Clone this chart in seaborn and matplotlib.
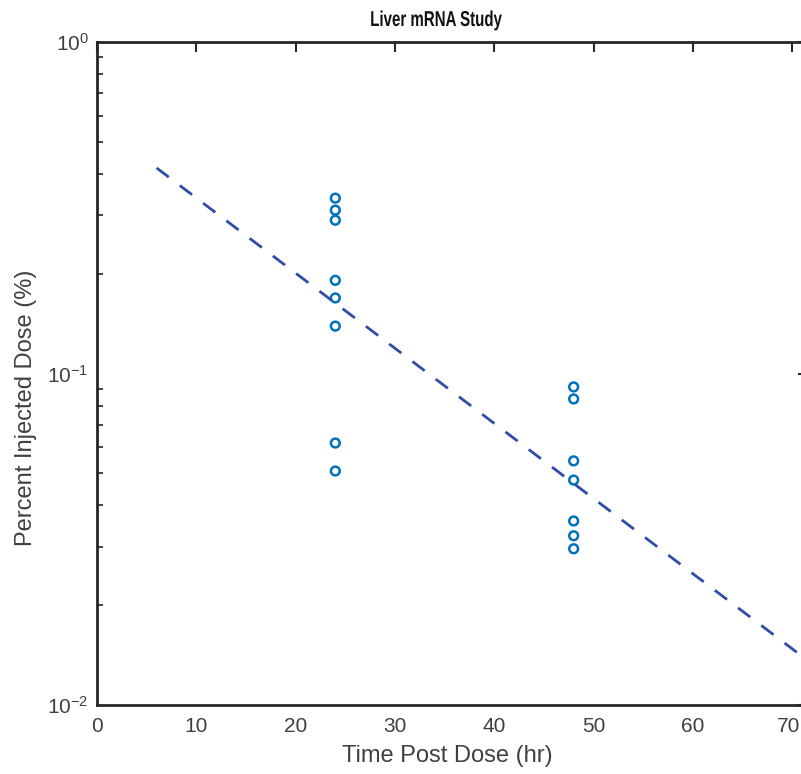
import numpy as np
import pandas as pd
import matplotlib
matplotlib.use("Agg")
import matplotlib.pyplot as plt
import seaborn as sns
from matplotlib.ticker import LogLocator, FixedLocator, NullFormatter
from matplotlib.patheffects import AbstractPathEffect
from matplotlib.transforms import Affine2D, ScaledTranslation

# ---- data ----
time_24 = [24, 24, 24, 24, 24, 24, 24, 24]
dose_24 = [0.338, 0.311, 0.290, 0.191, 0.169, 0.139, 0.0617, 0.0508]
time_48 = [48, 48, 48, 48, 48, 48, 48]
dose_48 = [0.0911, 0.0838, 0.0545, 0.0477, 0.0359, 0.0324, 0.0296]
fit_time = [6, 70.5]
fit_dose = [0.417, 0.0144]
x_ticks = [0, 10, 20, 30, 40, 50, 60, 70]

df = pd.DataFrame({"Time": time_24 + time_48, "Dose": dose_24 + dose_48})
fit_df = pd.DataFrame({"Time": fit_time, "Dose": fit_dose})

sns.set_style("white")
plt.rcParams["font.family"] = ["Liberation Sans", "DejaVu Sans"]
plt.rcParams["axes.unicode_minus"] = False


class HScale(AbstractPathEffect):
    """Squeeze text horizontally around a display x position."""
    def __init__(self, sx, cx):
        super().__init__()
        self.sx = sx
        self.cx = cx

    def draw_path(self, renderer, gc, tpath, affine, rgbFace=None):
        t = Affine2D().translate(-self.cx, 0).scale(self.sx, 1).translate(self.cx, 0)
        renderer.draw_path(gc, tpath, affine + t, rgbFace)


W, H = 801, 774
fig = plt.figure(figsize=(W / 100, H / 100), dpi=100)
ax_left, ax_right = 97, 808
ax = fig.add_axes([ax_left / W, 1 - 705 / H, (ax_right - ax_left) / W, (705 - 42) / H])

sns.lineplot(data=fit_df, x="Time", y="Dose", ax=ax, color="#2F4DA6",
             linewidth=2.0, legend=False)
ax.lines[-1].set_dashes((5.5, 5))
sns.scatterplot(data=df, x="Time", y="Dose", ax=ax, marker="o", s=40,
                facecolor="none", edgecolor="#0072BD", linewidth=1.8, legend=False)

ax.set_yscale("log")
ax.set_ylim(0.01, 1)
ax.set_xlim(0, 71.6)
ax.xaxis.set_major_locator(FixedLocator(x_ticks))
ax.yaxis.set_major_locator(LogLocator(base=10, numticks=5))
ax.yaxis.set_minor_locator(LogLocator(base=10, subs=np.arange(2, 10), numticks=20))
ax.yaxis.set_minor_formatter(NullFormatter())

text_color = "#404040"
ax.tick_params(axis="both", which="major", direction="in", length=7, width=1.5,
               colors="#262626", labelcolor=text_color, labelsize=15,
               top=True, right=True)
ax.tick_params(axis="y", which="minor", direction="in", length=4, width=1.2,
               colors="#262626", left=True, right=False)
ax.tick_params(axis="x", pad=9)
ax.tick_params(axis="y", pad=6)
for side in ["left", "bottom", "top"]:
    ax.spines[side].set_visible(True)
    ax.spines[side].set_linewidth(2.0)
    ax.spines[side].set_color("#262626")
ax.spines["right"].set_visible(False)

# keep the last x tick label inside the image edge
fig.canvas.draw()
last_lbl = ax.get_xticklabels()[-1]
last_lbl.set_transform(last_lbl.get_transform() + ScaledTranslation(-4 / 100, 0, fig.dpi_scale_trans))

ax.set_xlabel("Time Post Dose (hr)", fontsize=17, color=text_color)
ax.xaxis.set_label_coords(0.5 - 5 / (ax_right - ax_left), -0.060)
ax.set_ylabel("Percent Injected Dose (%)", fontsize=17, color=text_color)
ax.yaxis.set_label_coords(-0.085, 0.448)

title_cx = 436
fig.text(title_cx / W, 1 - 26 / H, "Liver mRNA Study", fontsize=15.5, fontweight="bold",
         color="#111111", ha="center", va="baseline",
         path_effects=[HScale(0.70, title_cx)])

fig.savefig("out.png", dpi=100)
